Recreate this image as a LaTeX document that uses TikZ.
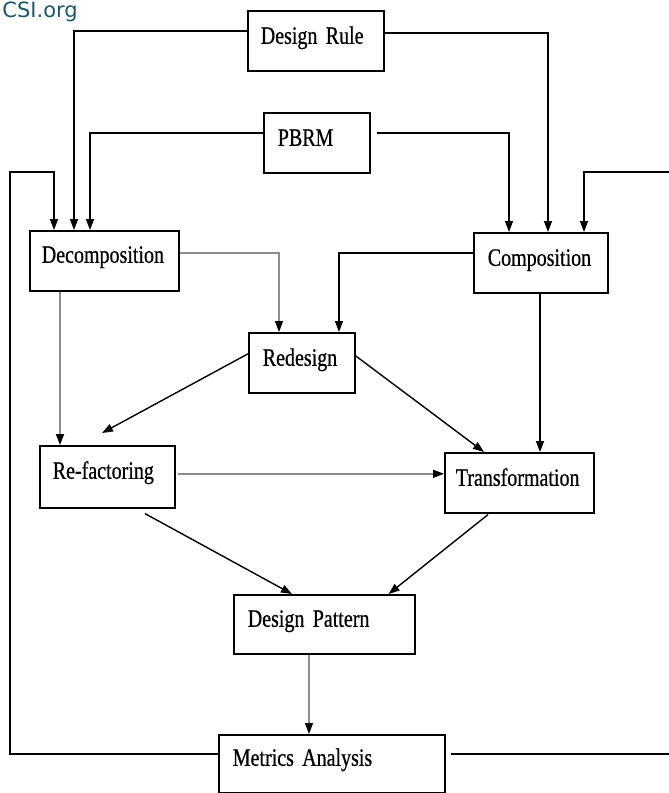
\documentclass[tikz,border=0pt]{standalone}
\usepackage{fontspec}
\setmainfont{Liberation Serif}[FakeStretch=0.8,FakeBold=0.6]
\newfontfamily\csifont{DejaVu Sans}
\usetikzlibrary{arrows.meta,positioning}
\definecolor{csiteal}{RGB}{28,88,108}
\newcommand{\boxfont}{\fontsize{25}{30}\selectfont\spaceskip=4pt plus 1pt\relax}

\begin{document}
\begin{tikzpicture}[x=1pt,y=-1pt,
	box/.style={draw, line width=1.6pt, anchor=north west, inner ysep=0pt, align=left, font=\boxfont},
	arr/.style={line width=1.4pt, -{Triangle[length=11pt,width=8pt,color=black]}},
	garr/.style={arr, draw=black!45}]

			\useasboundingbox (0,0) rectangle (669,793);
			\clip (0,0) rectangle (669,793);

			\node[font=\csifont\fontsize{21}{24}\selectfont, text=csiteal, anchor=base east, inner sep=0pt] (csi) at (78,17) {CSI.org};

			\node[box, text width=110pt, inner xsep=13pt, text height=33pt, text depth=27pt] (drule) at (247,10) {Design Rule};
			\node[box, text width=78pt, inner xsep=14pt, text height=33pt, text depth=27pt] (pbrm) at (263,112) {PBRM};
			\node[box, text width=125pt, inner xsep=12pt, text height=32pt, text depth=28pt] (decomp) at (29,230) {Decomposition};
			\node[box, text width=106pt, inner xsep=14pt, text height=33pt, text depth=27pt] (comp) at (473,232) {Composition};
			\node[box, text width=78pt, inner xsep=14pt, text height=33pt, text depth=27pt] (redesign) at (248,332) {Redesign};
			\node[box, text width=109pt, inner xsep=13pt, text height=33pt, text depth=29pt] (refac) at (39,445) {Re-factoring};
			\node[box, text width=127pt, inner xsep=11pt, text height=33pt, text depth=27pt] (trans) at (444,452) {Transformation};
			\node[box, text width=153pt, inner xsep=14pt, text height=32pt, text depth=27pt] (dpattern) at (233,594) {Design Pattern};
			\node[box, text width=198pt, inner xsep=14pt, text height=31pt, text depth=27pt] (metrics) at (218,734) {Metrics Analysis};

			\coordinate (lloop) at (10,172);
			\coordinate (rloop) at (676,172);

			\draw[arr] ([yshift=10pt]drule.west) -| ([xshift=45pt]decomp.north west);
			\draw[arr] ([yshift=8pt]drule.east) -| ([xshift=75pt]comp.north west);
			\draw[arr] ([yshift=10pt]pbrm.west) -| ([xshift=61pt]decomp.north west);
			\draw[arr] ([xshift=6pt,yshift=10pt]pbrm.east) -| ([xshift=36pt]comp.north west);

			\draw[arr] ([yshift=10pt]metrics.west) -| (lloop) -| ([xshift=25pt]decomp.north west);
			\draw[arr] ([xshift=5pt,yshift=10pt]metrics.east) -| (rloop) -| ([xshift=111pt]comp.north west);

			\draw[garr] ([yshift=8pt]decomp.east) -| ([xshift=31pt]redesign.north west);
			\draw[arr] ([yshift=10pt]comp.west) -| ([xshift=91pt]redesign.north west);
			\draw[garr] ([xshift=31pt]decomp.south west) -- ([xshift=21pt]refac.north west);
			\draw[arr] ([yshift=9pt]redesign.west) -- ([shift={(63pt,12pt)}]refac.north west);
			\draw[arr] ([yshift=7pt]redesign.east) -- ([xshift=40pt]trans.north west);
			\draw[arr] ([xshift=67pt]comp.south west) -- ([xshift=96pt]trans.north west);
			\draw[garr] ([xshift=2pt,yshift=3pt]refac.east) -- ([yshift=9pt]trans.west);

			\draw[arr] ([shift={(106pt,-5pt)}]refac.south west) -- ([xshift=59pt]dpattern.north west);
			\draw[arr] ([shift={(44pt,-1pt)}]trans.south west) -- ([xshift=-27pt]dpattern.north east);
			\draw[garr] ([xshift=76pt]dpattern.south west) -- ([xshift=91pt]metrics.north west);

\end{tikzpicture}
\end{document}
